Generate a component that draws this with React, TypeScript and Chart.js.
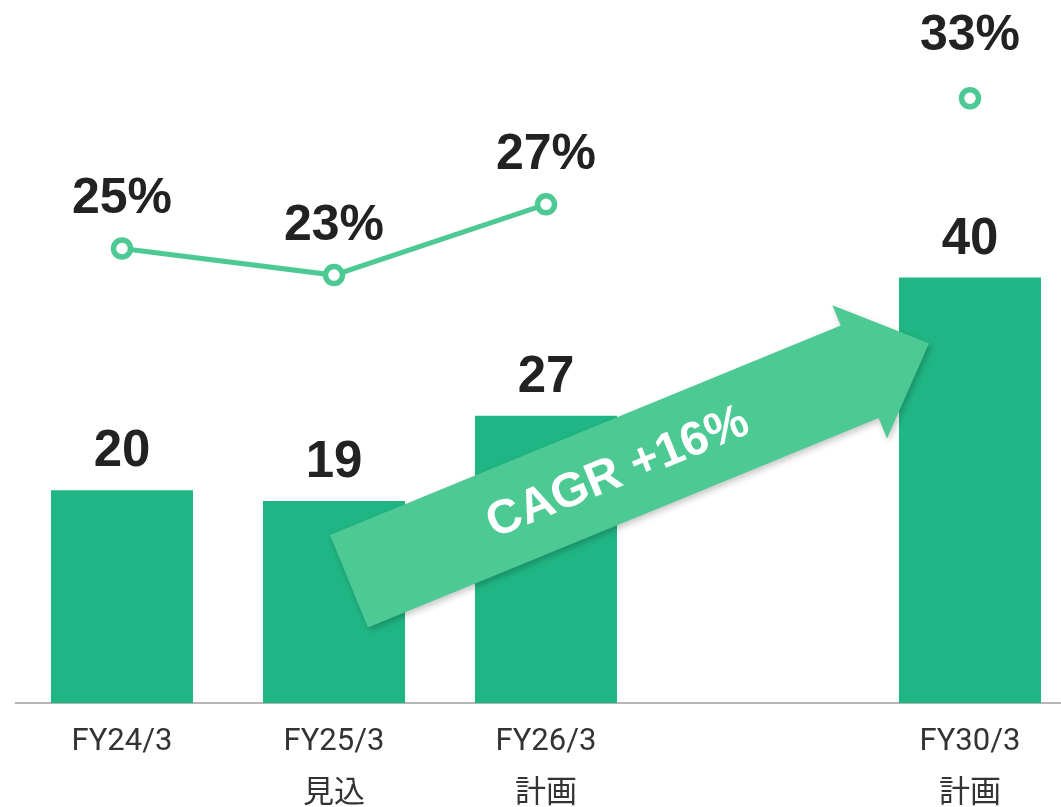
import React, { useEffect, useRef } from "react";
import { Chart, registerables } from "chart.js";

Chart.register(...registerables);

const categories: string[][] = [["FY24/3"], ["FY25/3", "見込"], ["FY26/3", "計画"], [""], ["FY30/3", "計画"]];
const salesValues: (number | null)[] = [20, 19, 27, null, 40];
const rateValues: (number | null)[] = [24.5, 23, 27, null, 33];
const cagrText = "CAGR +16%";

const BAR_COLOR = "#20B584";
const LINE_COLOR = "#4DC994";
const TEXT_COLOR = "#222222";
const NUM_FONT = "'Liberation Sans', Arial, sans-serif";

const overlayPlugin = {
  id: "overlay",
  afterDatasetsDraw(chart: any) {
    const ctx = chart.ctx as CanvasRenderingContext2D;
    const base = chart.scales.y.getPixelForValue(0);

    // CAGR arrow (anchored to the x baseline)
    ctx.save();
    const ax = chart.chartArea.left + 314;
    const ay = base - 168;
    ctx.translate(ax, ay);
    ctx.rotate((-22.3 * Math.PI) / 180);
    ctx.shadowColor = "rgba(0,0,0,0.22)";
    ctx.shadowBlur = 6;
    ctx.shadowOffsetX = 2;
    ctx.shadowOffsetY = 3;
    ctx.fillStyle = LINE_COLOR;
    ctx.beginPath();
    ctx.moveTo(0, 0);
    ctx.lineTo(552, 0);
    ctx.lineTo(552, -22);
    ctx.lineTo(627, 50);
    ctx.lineTo(552, 122);
    ctx.lineTo(552, 100);
    ctx.lineTo(0, 100);
    ctx.closePath();
    ctx.fill();
    ctx.shadowColor = "transparent";
    ctx.fillStyle = "#ffffff";
    ctx.font = `bold 48px ${NUM_FONT}`;
    ctx.textAlign = "center";
    ctx.textBaseline = "middle";
    ctx.fillText(cagrText, 290, 52);
    ctx.restore();

    // bar value labels
    ctx.save();
    ctx.fillStyle = TEXT_COLOR;
    ctx.textAlign = "center";
    ctx.textBaseline = "middle";
    ctx.font = `bold 51px ${NUM_FONT}`;
    const barMeta = chart.getDatasetMeta(0);
    barMeta.data.forEach((el: any, i: number) => {
      const v = salesValues[i];
      if (v == null) return;
      ctx.fillText(String(v), el.x, el.y - 38);
    });

    // rate labels
    ctx.font = `bold 50px ${NUM_FONT}`;
    const lineMeta = chart.getDatasetMeta(1);
    const lastIdx = rateValues.length - 1;
    lineMeta.data.forEach((el: any, i: number) => {
      const v = rateValues[i];
      if (v == null) return;
      const lift = i === lastIdx ? 62 : 49;
      ctx.fillText(`${Math.round(v)}%`, el.x, el.y - lift);
    });
    ctx.restore();
  },
};

export default function App() {
  const canvasRef = useRef<HTMLCanvasElement | null>(null);

  useEffect(() => {
    if (!canvasRef.current) return;
    const chart = new Chart(canvasRef.current, {
      type: "bar",
      data: {
        labels: categories,
        datasets: [
          {
            type: "bar",
            data: salesValues,
            backgroundColor: BAR_COLOR,
            categoryPercentage: 1,
            barPercentage: 0.67,
            yAxisID: "y",
            order: 2,
          },
          {
            type: "line",
            data: rateValues,
            borderColor: LINE_COLOR,
            borderWidth: 5,
            pointRadius: 8.5,
            pointBorderWidth: 5.5,
            pointBackgroundColor: "#ffffff",
            pointBorderColor: LINE_COLOR,
            spanGaps: false,
            yAxisID: "y2",
            order: 1,
          } as any,
        ],
      },
      options: {
        responsive: false,
        animation: false,
        layout: { padding: { left: 16, right: 14, top: 0, bottom: 7 } },
        plugins: { legend: { display: false }, tooltip: { enabled: false } },
        scales: {
          x: {
            offset: true,
            grid: { display: false, drawTicks: false },
            border: { display: true, color: "#b5b5b5", width: 2 },
            ticks: {
              padding: 13,
              color: "#333333",
              font: { family: "Roboto, 'Noto Sans CJK JP', sans-serif", size: 31, lineHeight: "52px" },
              maxRotation: 0,
              autoSkip: false,
            },
          },
          y: { display: false, min: 0, max: 66 },
          y2: { display: false, min: -1.2, max: 38.5 },
        },
      },
      plugins: [overlayPlugin],
    });
    return () => chart.destroy();
  }, []);

  return (
    <div style={{ position: "fixed", left: 0, top: 0, width: 1061, height: 807, overflow: "hidden", background: "#fff" }}>
      <canvas
        ref={canvasRef}
        width={1090}
        height={853}
        style={{ display: "block", position: "absolute", left: 0, top: -13 }}
      />
    </div>
  );
}
